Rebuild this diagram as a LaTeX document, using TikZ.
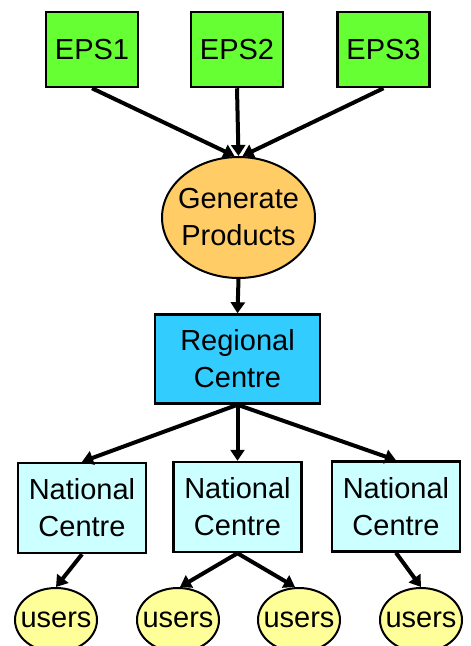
\documentclass[tikz,border=0pt]{standalone}
\usepackage{fontspec}
\setmainfont{Liberation Sans}
\usetikzlibrary{shapes.geometric,arrows.meta}
\definecolor{epsgreen}{HTML}{66FF33}
\definecolor{genorange}{HTML}{FFCC66}
\definecolor{regblue}{HTML}{33CCFF}
\definecolor{natcyan}{HTML}{CCFFFF}
\definecolor{useryellow}{HTML}{FFFF99}
\begin{document}
\begin{tikzpicture}[x=1pt,y=-1pt,
  every node/.style={font=\fontsize{29}{37}\selectfont, align=center, inner sep=0pt},
  epsbox/.style={draw, line width=2.5pt, fill=epsgreen, minimum width=92pt, minimum height=75pt},
  genell/.style={ellipse, draw, line width=2pt, fill=genorange, inner xsep=-9pt, minimum width=153pt, minimum height=121pt},
  regbox/.style={draw, line width=2.5pt, fill=regblue, minimum width=165pt, minimum height=89pt},
  natbox/.style={draw, line width=2.5pt, fill=natcyan, minimum width=128pt, minimum height=90pt},
  userell/.style={ellipse, draw, line width=2pt, fill=useryellow, inner xsep=-8pt, minimum width=82pt, minimum height=64pt},
  conn/.style={line width=4pt, -{Triangle[width=14pt,length=11pt]}}
]
\useasboundingbox (0,0) rectangle (471,646);
\node[epsbox] (e1) at (92,49.5) {EPS1};
\node[epsbox] (e2) at (237,49.5) {EPS2};
\node[epsbox] (e3) at (383.5,49.5) {EPS3};
\node[genell] (gp) at (238.5,217.5) {Generate\\Products};
\node[regbox] (rc) at (237.5,359) {Regional\\Centre};
\node[natbox] (n1) at (82,508) {National\\Centre};
\node[natbox] (n2) at (237.5,507) {National\\Centre};
\node[natbox] (n3) at (396,506.5) {National\\Centre};
\node[userell] (u1) at (56,620) {users};
\node[userell] (u2) at (178,620) {users};
\node[userell] (u3) at (299,620) {users};
\node[userell] (u4) at (421,620) {users};
\draw[conn] (e1.south) -- ([xshift=-4pt]gp.north);
\draw[conn] (e2.south) -- (gp.north);
\draw[conn] (e3.south) -- ([xshift=4pt]gp.north);
\draw[conn] (gp.south) -- (rc.north);
\draw[conn] (rc.south) -- (n1.north);
\draw[conn] (rc.south) -- (n2.north);
\draw[conn] (rc.south) -- (n3.north);
\draw[conn] (n1.south) -- (u1.north);
\draw[conn] (n2.south) -- ([xshift=2pt]u2.north);
\draw[conn] (n2.south) -- ([xshift=-4pt]u3.north);
\draw[conn] (n3.south) -- (u4.north);
\end{tikzpicture}
\end{document}
